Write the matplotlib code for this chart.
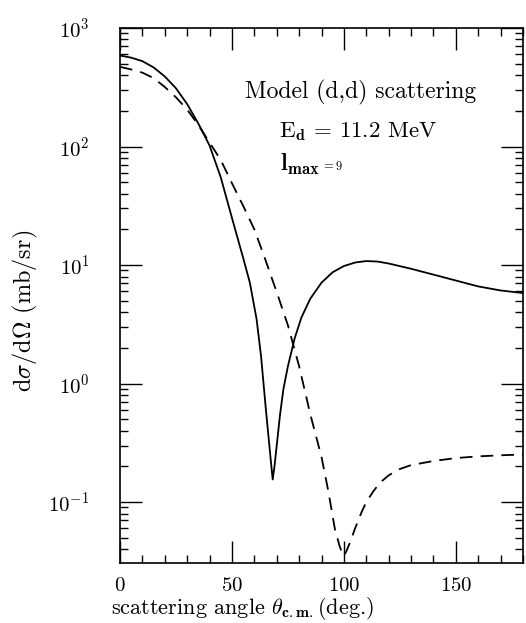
import numpy as np
import matplotlib
matplotlib.use("Agg")
import matplotlib.pyplot as plt
from matplotlib.ticker import LogLocator, MultipleLocator, NullFormatter

plt.rcParams['font.family'] = 'cmr10'
plt.rcParams['mathtext.fontset'] = 'cm'
plt.rcParams['axes.unicode_minus'] = False
plt.rcParams['axes.formatter.use_mathtext'] = True

# valeurs (angle en degres, section efficace en mb/sr)
theta_plein = [0, 5, 10, 15, 20, 25, 30, 35, 40, 45, 50, 55, 58, 61, 63, 65,
               66.5, 67.5, 68.2, 69, 70, 71.5, 73, 75, 78, 81, 85, 90, 95,
               100, 105, 110, 115, 120, 130, 140, 150, 160, 170, 180]
sigma_plein = [586, 562, 525, 465, 390, 310, 228, 156, 102, 55, 25, 11.5, 7.1,
               3.5, 1.7, 0.65, 0.33, 0.21, 0.155, 0.2, 0.3, 0.55, 0.9, 1.4,
               2.4, 3.6, 5.2, 7.1, 8.7, 9.8, 10.5, 10.8, 10.7, 10.3, 9.3,
               8.3, 7.4, 6.6, 6.1, 5.8]

theta_tirets = [0, 5, 10, 15, 20, 25, 30, 35, 40, 45, 50, 55, 60, 65, 70, 75,
                80, 85, 90, 93, 96, 98, 99.7, 101, 103, 105, 108, 110, 113,
                116, 120, 125, 130, 140, 150, 160, 170, 180]
sigma_tirets = [470, 447, 420, 378, 318, 260, 205, 152, 108, 77, 49, 31.6, 20,
                11, 5.9, 3.1, 1.4, 0.55, 0.24, 0.125, 0.059, 0.043, 0.035,
                0.038, 0.047, 0.06, 0.083, 0.1, 0.122, 0.145, 0.168, 0.19,
                0.205, 0.222, 0.235, 0.243, 0.248, 0.252]

fig = plt.figure(figsize=(5.26, 6.23), dpi=100)
ax = fig.add_axes([120/526, 1 - 563/623, 403/526, 535/623])

ax.plot(theta_plein, sigma_plein, color='black', linewidth=1.3)
ax.plot(theta_tirets, sigma_tirets, color='black', linewidth=1.3,
        dashes=(7, 4.5))

ax.set_yscale('log')
ax.set_xlim(0, 180)
ax.set_ylim(0.0306, 1000)

ax.xaxis.set_major_locator(MultipleLocator(50))
ax.xaxis.set_minor_locator(MultipleLocator(10))
ax.yaxis.set_major_locator(LogLocator(base=10, numticks=10))
ax.yaxis.set_minor_locator(LogLocator(base=10, subs=np.arange(2, 10), numticks=10))
ax.yaxis.set_minor_formatter(NullFormatter())

ax.tick_params(which='both', direction='in', top=True, right=True,
               labelsize=15, color='black')
ax.tick_params(which='major', length=16, width=1)
ax.tick_params(which='minor', length=5.5, width=1)
ax.tick_params(axis='x', pad=10)
ax.tick_params(axis='y', pad=22)
for s in ax.spines.values():
    s.set_linewidth(1.2)

ax.text(0.596, 0.88, 'Model (d,d) scattering', transform=ax.transAxes,
        ha='center', va='center', fontsize=17)
ax.text(0.59, 0.806, r'E$_{\mathbf{d}}$ = 11.2 MeV', transform=ax.transAxes,
        ha='center', va='center', fontsize=16.5)
t_l = ax.text(0.397, 0.744, r'$\mathbf{l}_{\mathbf{max}}$', transform=ax.transAxes,
              ha='left', va='center', fontsize=17)
fig.canvas.draw()
bb = t_l.get_window_extent(renderer=fig.canvas.get_renderer())
ax.text(bb.x1 + 1, bb.y0 + 0.45 * bb.height, r'$\mathbf{=9}$',
        transform=None, ha='left', va='center', fontsize=9)

fig.text(242/526, 1 - 608/623, r'scattering angle $\theta_{\mathbf{c.m.}}$(deg.)',
         ha='center', va='center', fontsize=16)
fig.text(25/526, 1 - 311/623, r'd$\sigma$/d$\Omega$ (mb/sr)', rotation=90,
         ha='center', va='center', fontsize=17.5)

fig.savefig('out.png', dpi=100)
